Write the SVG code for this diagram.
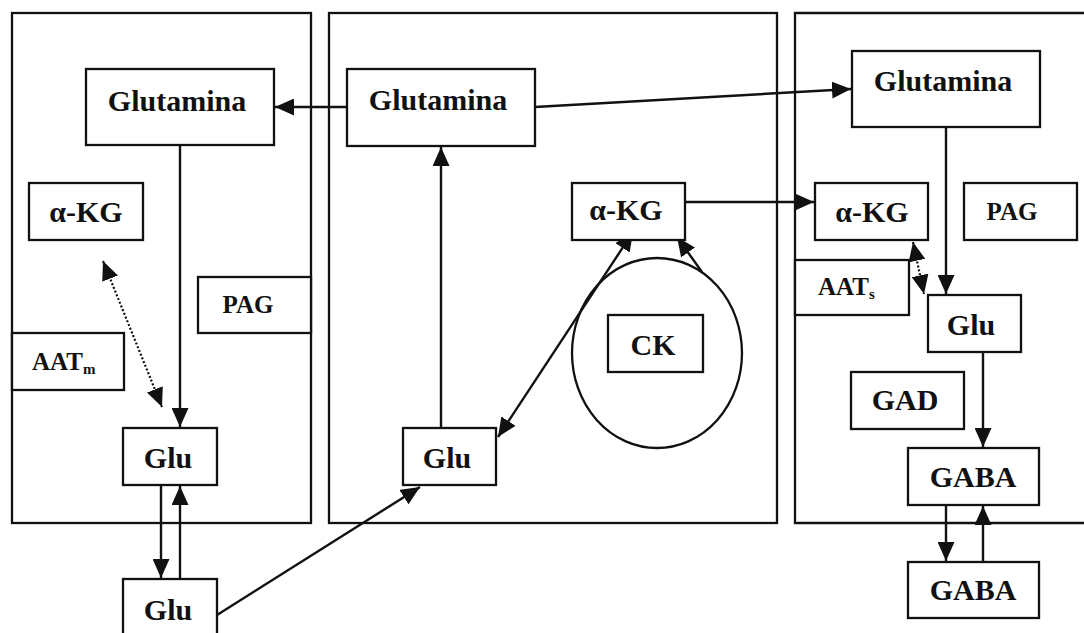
<svg xmlns="http://www.w3.org/2000/svg" width="1084" height="633" viewBox="0 0 1084 633">
<defs>
<style>
.b{fill:#fff;stroke:#111;stroke-width:2.3}
.p{fill:none;stroke:#111;stroke-width:2.3}
.c{fill:none;stroke:#111;stroke-width:2.4}
.d{fill:none;stroke:#111;stroke-width:2.2;stroke-dasharray:2 2}
text{font-family:"Liberation Serif","Times New Roman",serif;font-weight:bold;fill:#111;font-size:30px;text-anchor:middle}
.s{font-size:25px}
.sub{font-size:15px}
</style>
<marker id="a" markerUnits="userSpaceOnUse" markerWidth="19" markerHeight="17" refX="19" refY="8.5" orient="auto-start-reverse" viewBox="0 0 19 17">
<path d="M0,0 L19,8.5 L0,17 z" fill="#111"/>
</marker>
</defs>
<rect width="1084" height="633" fill="#fff"/>
<g id="panels">
<rect class="p" x="12" y="13" width="299" height="510"/>
<rect class="p" x="329" y="13" width="448" height="510"/>
<path class="p" d="M1090,13 H795 V523 H1090"/>
</g>
<g id="connectors">
<line class="c" x1="347" y1="107" x2="275" y2="107" marker-end="url(#a)"/>
<line class="c" x1="535" y1="107" x2="851" y2="89" marker-end="url(#a)"/>
<line class="c" x1="180" y1="145" x2="180" y2="427" marker-end="url(#a)"/>
<line class="d" x1="103" y1="261" x2="162" y2="407" marker-start="url(#a)" marker-end="url(#a)"/>
<line class="c" x1="161" y1="485" x2="161" y2="578" marker-end="url(#a)"/>
<line class="c" x1="180" y1="579" x2="180" y2="486" marker-end="url(#a)"/>
<line class="c" x1="217" y1="615" x2="420" y2="487" marker-end="url(#a)"/>
<line class="c" x1="441" y1="428" x2="441" y2="147" marker-end="url(#a)"/>
<line class="c" x1="498" y1="437" x2="633" y2="232" marker-start="url(#a)" marker-end="url(#a)"/>
<line class="c" x1="702" y1="272" x2="677" y2="237" marker-end="url(#a)"/>
<line class="c" x1="685" y1="202" x2="814" y2="202" marker-end="url(#a)"/>
<line class="c" x1="946" y1="127" x2="946" y2="294" marker-end="url(#a)"/>
<line class="d" x1="913" y1="242" x2="924" y2="294" marker-start="url(#a)" marker-end="url(#a)"/>
<line class="c" x1="983" y1="352" x2="983" y2="447" marker-end="url(#a)"/>
<line class="c" x1="946" y1="505" x2="946" y2="561" marker-end="url(#a)"/>
<line class="c" x1="983" y1="562" x2="983" y2="506" marker-end="url(#a)"/>
</g>
<g id="glutamina-left"><rect class="b" x="86" y="69" width="188" height="76"/><text x="177" y="111">Glutamina</text></g>
<g id="akg-left"><rect class="b" x="29" y="183" width="114" height="57"/><text x="86" y="222">α-KG</text></g>
<g id="pag-left"><rect class="b" x="198" y="277" width="113" height="56"/><text class="s" x="248" y="313">PAG</text></g>
<g id="aatm"><rect class="b" x="12" y="333" width="112" height="57"/><text class="s" x="32" y="370" style="text-anchor:start">AAT<tspan class="sub" dy="4">m</tspan></text></g>
<g id="glu-left"><rect class="b" x="123" y="428" width="94" height="57"/><text x="168" y="468">Glu</text></g>
<g id="glu-bottom"><rect class="b" x="123" y="579" width="94" height="60"/><text x="168" y="620">Glu</text></g>
<g id="glutamina-mid"><rect class="b" x="347" y="69" width="188" height="77"/><text x="438" y="110">Glutamina</text></g>
<g id="akg-mid"><rect class="b" x="572" y="183" width="113" height="57"/><text x="626" y="220">α-KG</text></g>
<g id="ck"><ellipse class="p" cx="657" cy="353" rx="85" ry="95"/><rect class="b" x="608" y="315" width="95" height="57"/><text x="653" y="355">CK</text></g>
<g id="glu-mid"><rect class="b" x="403" y="428" width="93" height="57"/><text x="447" y="468">Glu</text></g>
<g id="glutamina-right"><rect class="b" x="852" y="51" width="188" height="76"/><text x="943" y="91">Glutamina</text></g>
<g id="akg-right"><rect class="b" x="815" y="183" width="113" height="57"/><text x="872" y="222">α-KG</text></g>
<g id="pag-right"><rect class="b" x="964" y="183" width="113" height="57"/><text class="s" x="1012" y="220">PAG</text></g>
<g id="aats"><rect class="b" x="795" y="260" width="114" height="55"/><text class="s" x="818" y="295" style="text-anchor:start">AAT<tspan class="sub" dy="4">s</tspan></text></g>
<g id="glu-right"><rect class="b" x="928" y="295" width="93" height="57"/><text x="971" y="335">Glu</text></g>
<g id="gad"><rect class="b" x="851" y="372" width="113" height="57"/><text x="905" y="410">GAD</text></g>
<g id="gaba-top"><rect class="b" x="908" y="448" width="131" height="57"/><text x="973" y="487">GABA</text></g>
<g id="gaba-bottom"><rect class="b" x="908" y="562" width="131" height="56"/><text x="973" y="600">GABA</text></g>
</svg>
